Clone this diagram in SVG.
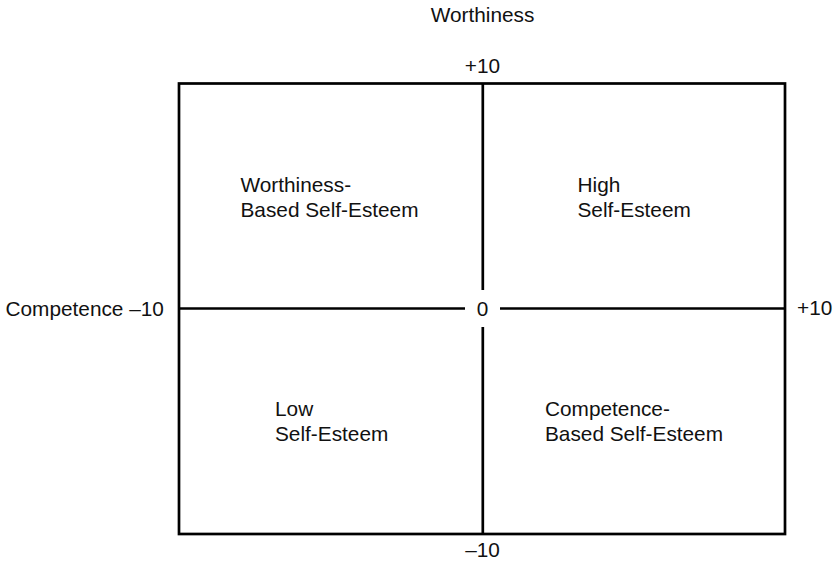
<svg xmlns="http://www.w3.org/2000/svg" width="838" height="562" viewBox="0 0 838 562">
<style>
text{font-family:"Liberation Sans",Arial,Helvetica,sans-serif;font-size:20.8px;fill:#111}
.m{text-anchor:middle}
.ln{stroke:#000;stroke-width:2.7;fill:none}
</style>
<rect width="838" height="562" fill="#fff"/>
<g id="frame">
<rect class="ln" x="179" y="83.5" width="606" height="450.5"/>
</g>
<g id="connectors">
<line class="ln" x1="179" y1="308.5" x2="465" y2="308.5"/>
<line class="ln" x1="500" y1="308.5" x2="785" y2="308.5"/>
<line class="ln" x1="482.8" y1="83.5" x2="482.8" y2="290"/>
<line class="ln" x1="482.8" y1="327" x2="482.8" y2="534"/>
</g>
<g id="axis-labels">
<text class="m" x="482.5" y="22">Worthiness</text>
<text class="m" x="482.5" y="73.3">+10</text>
<text class="m" x="482.5" y="316">0</text>
<text x="5.5" y="316">Competence –10</text>
<text x="797" y="315">+10</text>
<text class="m" x="482.5" y="556.5">–10</text>
</g>
<g id="q-worthiness">
<text x="240.5" y="191.5">Worthiness-</text>
<text x="240.5" y="216.5">Based Self-Esteem</text>
</g>
<g id="q-high">
<text x="577.5" y="191.5">High</text>
<text x="577.5" y="216.5">Self-Esteem</text>
</g>
<g id="q-low">
<text x="275" y="416">Low</text>
<text x="275" y="441">Self-Esteem</text>
</g>
<g id="q-competence">
<text x="545" y="416">Competence-</text>
<text x="545" y="441">Based Self-Esteem</text>
</g>
</svg>
